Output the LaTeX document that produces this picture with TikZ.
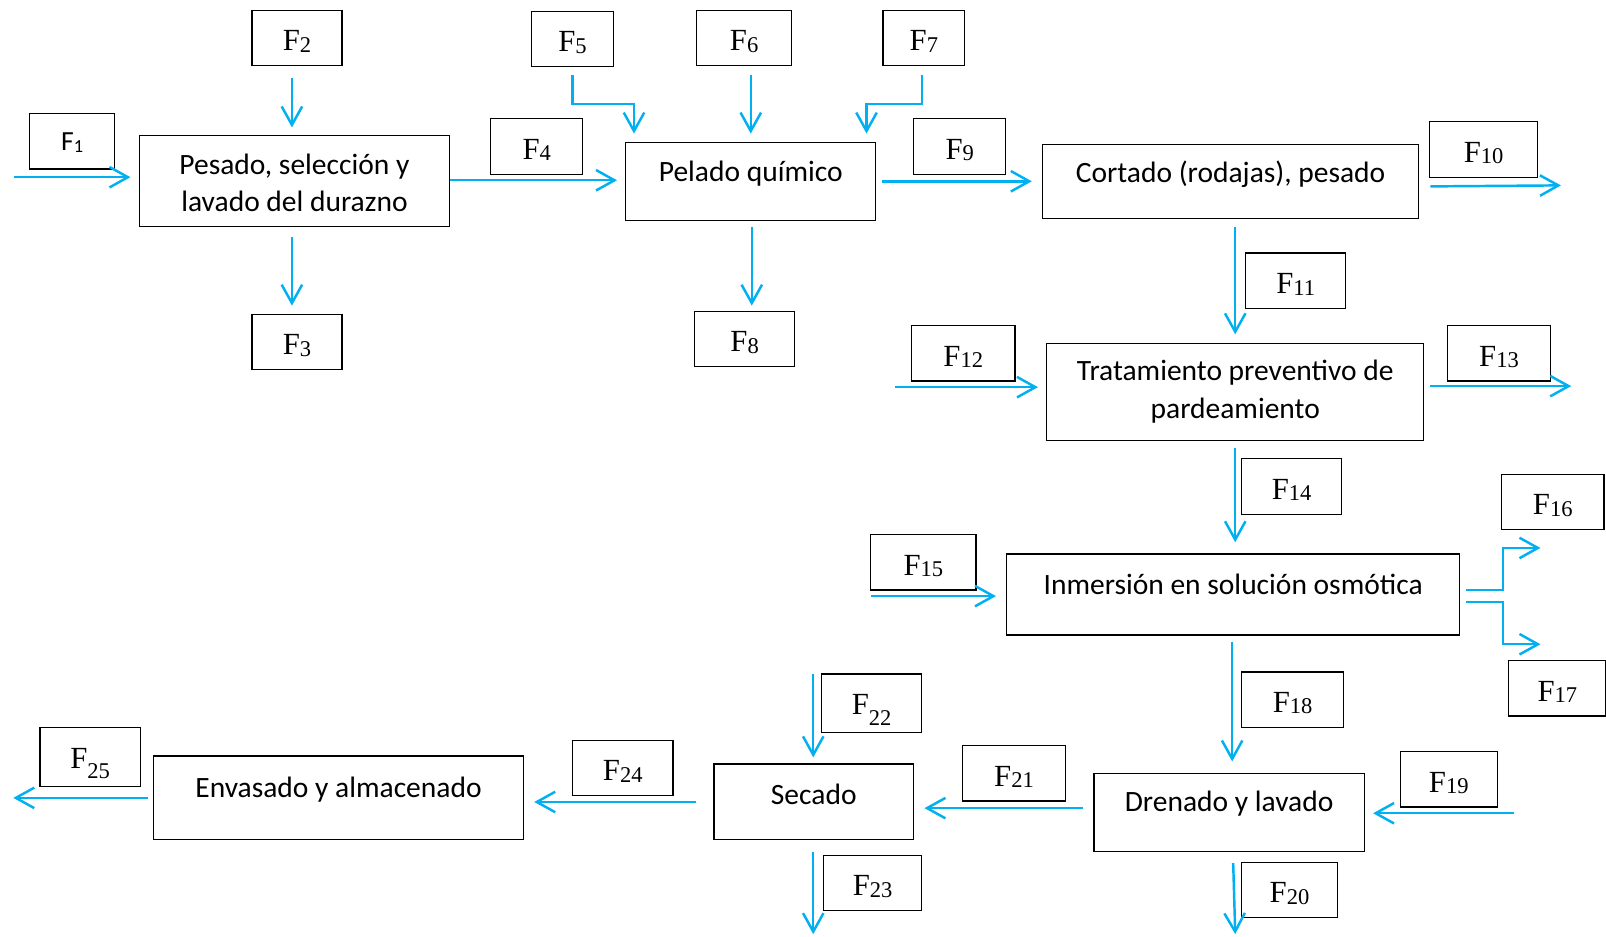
\documentclass[tikz,border=0pt]{standalone}
\usepackage{fontspec}
\setmainfont{Carlito}
\newfontfamily\tnr{Liberation Serif}
\usetikzlibrary{arrows.meta,calc}
\definecolor{flowc}{RGB}{0,176,240}
\newcommand{\Fl}[2][-0.8pt]{{\tnr\fontsize{15}{15}\selectfont F\fontsize{11}{11}\selectfont\raisebox{#1}{#2}}}
\tikzset{
  procA/.style={draw, line width=0.6pt, inner sep=0pt, font=\fontsize{14.4}{18.5}\selectfont, align=center},
  procB/.style={draw, line width=0.6pt, inner xsep=0pt, inner ysep=0pt, font=\fontsize{14.4}{18.5}\selectfont},
  lab/.style={draw, line width=0.6pt, inner sep=0pt, minimum height=27pt, text height=14pt, text depth=1.5pt},
  flow/.style={draw=flowc, line width=1.2pt, -{Straight Barb[length=9pt,width=10pt]}}
}
\begin{document}
\begin{tikzpicture}[x=0.5pt,y=-0.5pt]
\useasboundingbox (0,0) rectangle (1568,914);
% process boxes
\node[procA, minimum width=151.5pt, minimum height=44.5pt] (P1) at (287.5,176.5) {\rule{0pt}{12pt}Pesado, selección y\\lavado del durazno};
\node[procB, minimum width=122pt, text height=19pt, text depth=19pt] (P2) at (733,177) {Pelado químico};
\node[procB, minimum width=183.5pt, text height=18.5pt, text depth=17.5pt] (P3) at (1201.5,177) {Cortado (rodajas), pesado};
\node[procA, minimum width=184pt, minimum height=47.5pt] (P4) at (1206,382.5) {Tratamiento preventivo de\\pardeamiento};
\node[procB, minimum width=221pt, text height=19.5pt, text depth=20pt] (P5) at (1204,580.5) {Inmersión en solución osmótica};
\node[procB, minimum width=132pt, text height=18.5pt, text depth=19.5pt] (P6) at (1200,793) {Drenado y lavado};
\node[procB, minimum width=97.5pt, text height=19.5pt, text depth=17.5pt] (P7) at (794.5,783) {Secado};
\node[procB, minimum width=180.5pt, text height=20.5pt, text depth=20.5pt] (P8) at (330.5,779) {Envasado y almacenado};
% label boxes
\node[lab, minimum width=41.5pt, text height=10.2pt] (F1) at (70.5,138) {\fontsize{13.5}{13.5}\selectfont F\fontsize{9}{9}\selectfont\raisebox{-1pt}{1}};
\node[lab, minimum width=44pt] (F2) at (290,37) {\Fl{2}};
\node[lab, minimum width=44pt] (F3) at (290,334) {\Fl{3}};
\node[lab, minimum width=45pt] (F4) at (524,143) {\Fl{4}};
\node[lab, minimum width=40pt] (F5) at (559,38) {\Fl{5}};
\node[lab, minimum width=46.5pt] (F6) at (726.5,37) {\Fl{6}};
\node[lab, minimum width=40pt] (F7) at (902,37) {\Fl{7}};
\node[lab, minimum width=49pt] (F8) at (727,331) {\Fl{8}};
\node[lab, minimum width=45pt] (F9) at (937,143) {\Fl{9}};
\node[lab, minimum width=52.5pt] (F10) at (1448.5,146) {\Fl{10}};
\node[lab, minimum width=49pt] (F11) at (1265,274) {\Fl{11}};
\node[lab, minimum width=50.5pt] (F12) at (940.5,345) {\Fl{12}};
\node[lab, minimum width=50.5pt] (F13) at (1463.5,345) {\Fl{13}};
\node[lab, minimum width=49pt] (F14) at (1261,475) {\Fl{14}};
\node[lab, minimum width=51.5pt] (F15) at (901.5,549) {\Fl{15}};
\node[lab, minimum width=50pt] (F16) at (1516,490) {\Fl{16}};
\node[lab, minimum width=47.5pt] (F17) at (1520.5,672) {\Fl{17}};
\node[lab, minimum width=50pt] (F18) at (1262,683) {\Fl{18}};
\node[lab, minimum width=47.5pt] (F19) at (1414.5,761) {\Fl{19}};
\node[lab, minimum width=47pt] (F20) at (1259,869) {\Fl{20}};
\node[lab, minimum width=50pt] (F21) at (990,755) {\Fl{21}};
\node[lab, minimum width=49pt, minimum height=28.5pt, text height=13pt] (F22) at (851,686.5) {\Fl[-5pt]{22}};
\node[lab, minimum width=48pt] (F23) at (852,862) {\Fl{23}};
\node[lab, minimum width=49pt] (F24) at (608,750) {\Fl{24}};
\node[lab, minimum width=49pt, minimum height=29pt, text height=13pt] (F25) at (88,739) {\Fl[-5pt]{25}};
% free ends
\coordinate (in1) at (14,173);
\coordinate (out10) at (1524,181);
\coordinate (in12) at (874,378);
\coordinate (out13) at (1534,377);
\coordinate (in15) at (850,582);
\coordinate (out16) at (1504,535);
\coordinate (out17) at (1504,629);
\coordinate (in19) at (1478,794);
\coordinate (out20) at (1206,912);
\coordinate (in22) at (794,658);
\coordinate (out23) at (794,912);
\coordinate (out25) at (13,779);
% connectors
\draw[flow, shorten >=4pt] (in1) -- (in1 -| P1.west);
\draw[flow] ($(F2.south)+(-5,12)$) -- ($(P1.north)+(-2.5,-7)$);
\draw[flow] ($(P1.south)+(-2.5,10)$) -- ($(F3.north)+(-5,-8)$);
\draw[flow] ($(P1.east)+(0,-0.5)$) -- ($(P2.west)+(-8,-1)$);
\draw[flow] ($(F5.south)+(0,8)$) |- ($(P2.north)+(-114,-37)$) -- ($(P2.north)+(-114,-8)$);
\draw[flow] ($(F6.south)+(6.5,9)$) -- ($(P2.north)+(0,-8)$);
\draw[flow] ($(F7.south)+(-2,9)$) |- ($(P2.north)+(113,-37)$) -- ($(P2.north)+(113,-8)$);
\draw[flow] ($(P2.south)+(1,6)$) -- ($(F8.north)+(7,-5)$);
\draw[flow] ($(P2.east)+(6,0)$) -- ($(P3.west)+(-10,0)$);
\draw[flow] ($(P3.east)+(11,5)$) -- (out10);
\draw[flow] ($(P3.south)+(4.5,8)$) -- ($(P4.north)+(0,-8)$);
\draw[flow, shorten >=4pt] (in12) -- (in12 -| P4.west);
\draw[flow] ($(P4.east)+(6,-5.5)$) -- (out13);
\draw[flow] ($(P4.south)+(0,7)$) -- ($(P5.north)+(2,-11)$);
\draw[flow, shorten >=5pt] (in15) -- (in15 -| P5.west);
\draw[flow] ($(P5.east)+(6,-4.5)$) -- ++(36,0) |- (out16);
\draw[flow] ($(P5.east)+(6,7.5)$) -- ++(36,0) |- (out17);
\draw[flow] ($(P5.south)+(-1,6)$) -- ($(P6.north)+(3,-11)$);
\draw[flow, shorten >=4pt] (in19) -- (in19 -| P6.east);
\draw[flow] ($(P6.west)+(-10,-4)$) -- ($(P7.east)+(10,6)$);
\draw[flow] ($(P6.south)+(4,11)$) -- (out20);
\draw[flow, shorten >=3pt] (in22) -- (in22 |- P7.north);
\draw[flow] ($(P7.south)+(-0.5,11)$) -- (out23);
\draw[flow] ($(P7.west)+(-17,0)$) -- ($(P8.east)+(10,4)$);
\draw[flow] ($(P8.west)+(-5,0)$) -- (out25);
\end{tikzpicture}
\end{document}
